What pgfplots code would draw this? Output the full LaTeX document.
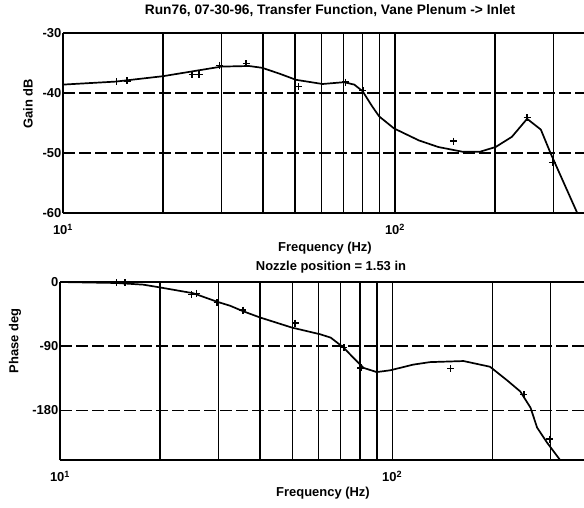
\documentclass[border=0pt]{standalone}
\usepackage{pgfplots}
\pgfplotsset{compat=1.18}
\usepackage{fontspec}
\setmainfont{Liberation Sans}

\newcommand{\lblfont}{\fontsize{13}{15}\selectfont\bfseries}
\newcommand{\ttlfont}{\fontsize{13.8}{16}\selectfont\bfseries}

\pgfplotsset{
  every axis/.append style={
    scale only axis,
    axis y line*=left,
    axis line style={line width=1.8bp},
    xmajorgrids, xminorgrids, ymajorgrids,
    major grid style={line width=1.25bp, black},
    minor grid style={line width=1.25bp, black},
    major tick length=0pt, minor tick length=0pt,
    tick label style={font=\lblfont},
    yticklabel style={inner sep=1.5bp},
    xticklabel style={inner sep=1bp, yshift=-10bp},
  },
  every axis y grid/.append style={dash pattern=on 12bp off 4bp},
}

\begin{document}
\begin{tikzpicture}[x=1bp,y=1bp]
\useasboundingbox (0,0) rectangle (584,-508);

% Gain
\begin{axis}[
  xmode=log,
  at={(63bp,-213bp)}, anchor=south west,
  width=521bp, height=180bp,
  xmin=10, xmax=371, ymin=-60, ymax=-30,
  xtick={10,100},
  xticklabels={10\textsuperscript{1},10\textsuperscript{2}},
  minor xtick={20,30,40,50,60,70,80,90,200,300},
  ytick={-60,-50,-40,-30},
  yticklabels={-60,-50,-40,-30},
]
\addplot[black, line width=1.7bp, mark=none] coordinates {
  (10,-38.6) (14.4,-38.1) (20,-37.2) (30,-35.6) (36.3,-35.5) (39.8,-35.8)
  (45,-36.8) (50.3,-37.8) (60.5,-38.5) (70.2,-38.2) (75.4,-38.6) (79.9,-39.7)
  (85.3,-42.2) (89.6,-43.9) (99.3,-45.9) (118,-47.9) (135,-49.0) (160,-49.8)
  (180,-49.8) (201,-49.0) (225,-47.3) (250,-44.3) (275,-46.1) (294,-50)
  (354,-60) (380,-63)
};
\addplot[black, only marks, mark=+, mark size=3.5bp, mark options={line width=1.5bp}] coordinates {
  (14.5,-38.1) (15.6,-38.0) (24.5,-36.9) (25.7,-36.9) (29.6,-35.4) (35.6,-35.1)
  (51.2,-38.9) (71,-38.2) (80,-39.6) (150,-48.0) (250,-44.1) (298,-51.6)
};
\end{axis}

% Phase
\begin{axis}[
  xmode=log,
  at={(60bp,-460bp)}, anchor=south west,
  width=524bp, height=178bp,
  xmin=10, xmax=378, ymin=-250, ymax=0,
  xtick={10,100},
  xticklabels={10\textsuperscript{1},10\textsuperscript{2}},
  minor xtick={20,30,40,50,60,70,80,90,200,300},
  ytick={-180,-90,0},
  yticklabels={-180,-90,0},
]
\addplot[black, line width=1.7bp, mark=none] coordinates {
  (10,0) (14.8,-1.4) (17.8,-3.7) (20,-7.6) (25.2,-15.8) (29.7,-27.7)
  (32.5,-33.3) (35.6,-41.1) (40,-49.8) (49.9,-64) (60.7,-73.4) (65.3,-78.1)
  (71.5,-92.3) (76.4,-106.4) (82,-120.6) (89.8,-126.5) (98.6,-124)
  (115.8,-116) (130,-112.5) (164,-111) (197,-119) (221,-137.5) (243,-153.7)
  (261,-176.7) (273,-204.4) (292,-225) (321,-250.6) (340,-262)
};
\addplot[black, only marks, mark=+, mark size=3.5bp, mark options={line width=1.5bp}] coordinates {
  (14.8,-1) (15.7,-1) (24.9,-17.2) (25.8,-15.8) (29.7,-28.8) (35.5,-39.5)
  (51,-57.8) (71.5,-92.3) (80.5,-120.6) (150,-121.3) (249,-158) (298,-220.5)
};
\end{axis}

\node[font=\ttlfont] at (330,-11) {Run76, 07-30-96, Transfer Function, Vane Plenum -> Inlet};
\node[font=\lblfont] at (325,-248) {Frequency (Hz)};
\node[font=\lblfont] at (331,-267) {Nozzle position = 1.53 in};
\node[font=\lblfont] at (323,-493) {Frequency (Hz)};
\node[font=\lblfont, rotate=90] at (28,-104) {Gain dB};
\node[font=\lblfont, rotate=90] at (15,-341) {Phase deg};
\end{tikzpicture}
\end{document}
